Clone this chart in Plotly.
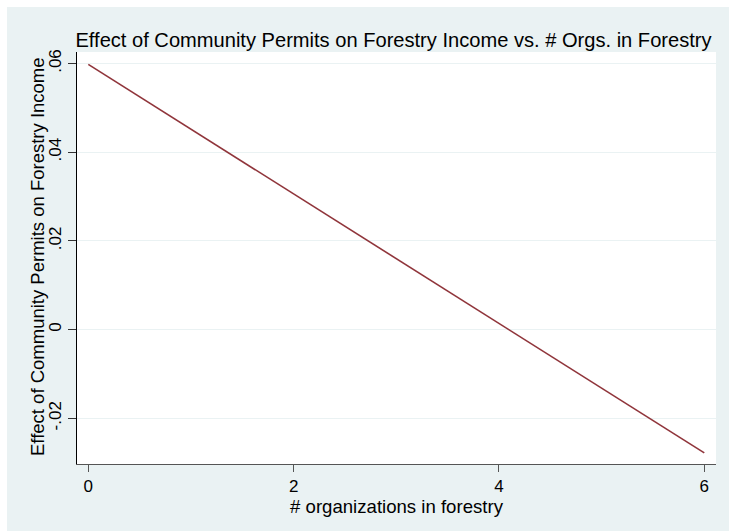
import plotly.graph_objects as go

# Estimated marginal effect of community permits across the number of forestry organizations
n_orgs = [0, 1, 2, 3, 4, 5, 6]
effect = [0.0598, 0.0452, 0.0306, 0.0159, 0.0013, -0.0132, -0.0278]

x_ticks = [0, 2, 4, 6]
x_ticklabels = ["0", "2", "4", "6"]
y_ticks = [-0.02, 0, 0.02, 0.04, 0.06]
y_ticklabels = ["-.02", "0", ".02", ".04", ".06"]

W, H = 729, 531
L, R, T, B = 77, 13, 52, 67

BG = "#EAF2F3"
LINE = "#90353B"
FONT = "Liberation Sans, Arial, sans-serif"

fig = go.Figure()
fig.add_trace(go.Scatter(
    x=n_orgs, y=effect, mode="lines",
    line=dict(color=LINE, width=1.6),
    showlegend=False, hoverinfo="x+y",
))

pw = W - L - R
ph = H - T - B

fig.update_layout(
    width=W, height=H,
    margin=dict(l=L, r=R, t=T, b=B, pad=0),
    paper_bgcolor="white",
    plot_bgcolor="white",
    font=dict(family=FONT, color="black"),
    title=dict(
        text="Effect of Community Permits on Forestry Income vs. # Orgs. in Forestry",
        font=dict(size=20.1, family=FONT, color="black"),
        x=393.5 / W, xanchor="center", xref="container",
        y=1 - 40 / H, yanchor="middle", yref="container",
    ),
    shapes=[
        # graph region background with a thin white border at the top/left
        dict(type="rect", xref="paper", yref="paper", layer="below",
             x0=(7 - L) / pw, x1=(W - L) / pw,
             y0=-(H - T - ph) / ph - 0.01, y1=1 + (T - 7) / ph,
             fillcolor=BG, line=dict(width=0)),
        # white plot region
        dict(type="rect", xref="paper", yref="paper", layer="below",
             x0=0, x1=1, y0=0, y1=1,
             fillcolor="white", line=dict(width=0)),
    ],
    annotations=[
        dict(text="Effect of Community Permits on Forestry Income",
             xref="paper", yref="paper", x=(37 - L) / pw, y=(464 - 257) / ph,
             xanchor="center", yanchor="middle", textangle=-90, showarrow=False,
             font=dict(size=18.5, family=FONT, color="black")),
    ],
)

fig.update_xaxes(
    range=[-0.11, 6.114],
    tickmode="array", tickvals=x_ticks, ticktext=x_ticklabels,
    ticks="outside", ticklen=7, tickwidth=1, tickcolor="#555555",
    tickfont=dict(size=17, family=FONT, color="black"),
    showline=True, linecolor="#555555", linewidth=1,
    showgrid=False, zeroline=False,
    title=dict(text="# organizations in forestry",
               font=dict(size=18.6, family=FONT, color="black"), standoff=2),
)

fig.update_yaxes(
    range=[-0.0303, 0.0626],
    tickmode="array", tickvals=y_ticks, ticktext=y_ticklabels,
    tickangle=-90,
    ticks="outside", ticklen=8, tickwidth=1, tickcolor="#333333",
    tickfont=dict(size=17, family=FONT, color="black"),
    showline=True, linecolor="black", linewidth=1,
    showgrid=True, gridcolor=BG, gridwidth=1,
    zeroline=False,
)

fig.write_html("out.html")
